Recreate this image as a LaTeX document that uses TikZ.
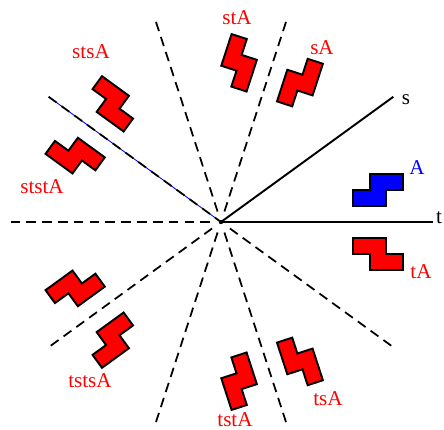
\documentclass[tikz,border=0pt]{standalone}
\usepackage{fontspec}
\setmainfont{Liberation Serif}
\usepackage{xcolor}

\tikzset{
  mirror/.style={line width=1pt, dash pattern=on 5.5pt off 3.5pt},
  axis/.style={line width=1.1pt},
  tile/.style={draw=black, line width=1.1pt, line join=miter, fill=red},
  word/.style={text=red, font=\fontsize{12}{14}\selectfont, inner sep=0pt},
}

\begin{document}
\begin{tikzpicture}[x=0.02cm, y=0.02cm]
  \useasboundingbox (-221,-208) rectangle (223,222);
  \coordinate (o) at (0,0);
  % mirror lines
  \foreach \a in {72,108,180,216,252,288,324}
    \draw[mirror] (\a:11) -- (\a:213);
  \draw[blue, line width=0.5pt] (o) -- (144:213) coordinate (u);
  \draw[mirror] (u) -- (o);
  \draw[axis] (o) -- (0:212) coordinate (te);
  \draw[axis] (o) -- (36:213) coordinate (se);
  \fill (o) circle (2.2);
  % the ten images of the tile
  \foreach \a/\f in {0/-1, 72/1, 72/-1, 144/1, 144/-1, 216/1, 216/-1, 288/1, 288/-1}
    \draw[tile, rotate=\a, yscale=\f]
      (132,16) -- (165.3,16) -- (165.3,32) -- (182,32) -- (182,48)
      -- (148.7,48) -- (148.7,32) -- (132,32) -- cycle;
  \draw[tile, fill=blue]
      (132,16) -- (165.3,16) -- (165.3,32) -- (182,32) -- (182,48)
      -- (148.7,48) -- (148.7,32) -- (132,32) -- cycle;
  % labels
  \node[word, text=black] (t) at (218,4) {t};
  \node[word, text=black] (s) at (185,122) {s};
  \node[word, text=blue] (A) at (196,54) {A};
  \node[word] (tA) at (200,-50) {tA};
  \node[word] (sA) at (101,174) {sA};
  \node[word] (stA) at (16,204) {stA};
  \node[word] (stsA) at (-130,170) {stsA};
  \node[word] (ststA) at (-179,35) {ststA};
  \node[word] (tstsA) at (-131,-159) {tstsA};
  \node[word] (tstA) at (14,-198) {tstA};
  \node[word] (tsA) at (107,-177) {tsA};
\end{tikzpicture}
\end{document}
